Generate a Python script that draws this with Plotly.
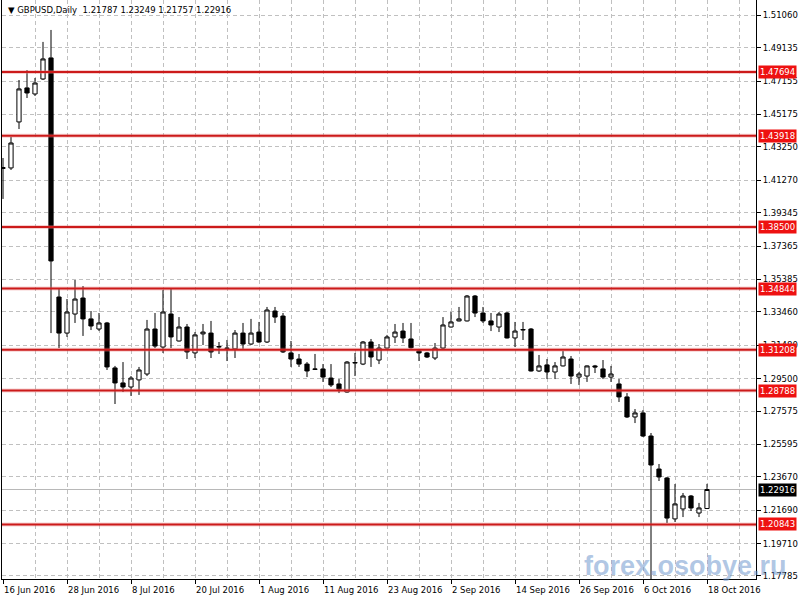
import plotly.graph_objects as go
import pandas as pd

# ---- data (GBPUSD daily, 16 Jun 2016 - 18 Oct 2016) ----
dates = pd.bdate_range("2016-06-16", "2016-10-18")

opens = [1.4197, 1.4200, 1.4473, 1.4675, 1.4639, 1.4728, 1.4853, 1.3434, 1.3220, 1.3333,
         1.3428, 1.3304, 1.3244, 1.3280, 1.3013, 1.2924, 1.2900, 1.2942, 1.2977, 1.3244,
         1.3137, 1.3333, 1.3173, 1.3256, 1.3102, 1.3215, 1.3220, 1.3137, 1.3131, 1.3126,
         1.3220, 1.3155, 1.3226, 1.3167, 1.3351, 1.3321, 1.3102, 1.3066, 1.3036, 1.3007,
         1.3007, 1.2953, 1.2918, 1.2870, 1.3042, 1.3036, 1.3167, 1.3060, 1.3131, 1.3197,
         1.3232, 1.3185, 1.3114, 1.3102, 1.3072, 1.3131, 1.3256, 1.3292, 1.3292, 1.3440,
         1.3339, 1.3292, 1.3256, 1.3339, 1.3191, 1.3238, 1.3244, 1.2995, 1.3031, 1.2989,
         1.3025, 1.3066, 1.2959, 1.2965, 1.3025, 1.3007, 1.2959, 1.2918, 1.2841, 1.2722,
         1.2746, 1.2609, 1.2413, 1.2360, 1.2117, 1.2176, 1.2253, 1.2152, 1.21787]
highs = [1.4259, 1.4384, 1.4722, 1.4781, 1.4734, 1.4948, 1.5019, 1.3482, 1.3422, 1.3535,
         1.3499, 1.3351, 1.3339, 1.3286, 1.3025, 1.3048, 1.2965, 1.3019, 1.3298, 1.3339,
         1.3476, 1.3482, 1.3315, 1.3274, 1.3226, 1.3274, 1.3292, 1.3167, 1.3179, 1.3238,
         1.3280, 1.3304, 1.3286, 1.3375, 1.3375, 1.3339, 1.3173, 1.3096, 1.3048, 1.3096,
         1.3036, 1.3036, 1.2947, 1.3054, 1.3102, 1.3173, 1.3185, 1.3155, 1.3209, 1.3274,
         1.3280, 1.3280, 1.3126, 1.3108, 1.3161, 1.3315, 1.3345, 1.3375, 1.3446, 1.3446,
         1.3375, 1.3339, 1.3345, 1.3345, 1.3286, 1.3286, 1.3250, 1.3090, 1.3066, 1.3048,
         1.3114, 1.3084, 1.2989, 1.3028, 1.3031, 1.3060, 1.3025, 1.2947, 1.2864, 1.2769,
         1.2763, 1.2627, 1.2443, 1.2366, 1.2324, 1.2271, 1.2259, 1.2212, 1.23249]
lows = [1.4016, 1.4188, 1.4431, 1.4615, 1.4627, 1.4722, 1.3220, 1.3131, 1.3197, 1.3280,
        1.3203, 1.3238, 1.3232, 1.3001, 1.2799, 1.2870, 1.2847, 1.2853, 1.2965, 1.3131,
        1.3102, 1.3131, 1.3170, 1.3066, 1.3072, 1.3149, 1.3072, 1.3096, 1.3054, 1.3072,
        1.3126, 1.3149, 1.3162, 1.3161, 1.3280, 1.3102, 1.3019, 1.3019, 1.2959, 1.3001,
        1.2930, 1.2900, 1.2864, 1.2866, 1.2965, 1.3030, 1.3019, 1.3036, 1.3128, 1.3161,
        1.3161, 1.3128, 1.3054, 1.3072, 1.3060, 1.3126, 1.3253, 1.3289, 1.3289, 1.3315,
        1.3280, 1.3232, 1.3226, 1.3188, 1.3137, 1.3179, 1.2992, 1.2989, 1.2947, 1.2947,
        1.3022, 1.2918, 1.2912, 1.2930, 1.2983, 1.2947, 1.2930, 1.2811, 1.2716, 1.2686,
        1.2603, 1.1491, 1.2342, 1.2093, 1.2099, 1.2128, 1.2164, 1.2128, 1.21757]
closes = [1.4202, 1.4348, 1.4669, 1.4645, 1.4704, 1.4847, 1.3648, 1.3220, 1.3345, 1.3422,
          1.3304, 1.3262, 1.3280, 1.3019, 1.2924, 1.2900, 1.2953, 1.3001, 1.3244, 1.3143,
          1.3345, 1.3197, 1.3256, 1.3108, 1.3209, 1.3226, 1.3108, 1.3140, 1.3129, 1.3220,
          1.3155, 1.3220, 1.3167, 1.3357, 1.3315, 1.3108, 1.3066, 1.3036, 1.2995, 1.3005,
          1.2959, 1.2912, 1.2888, 1.3048, 1.3045, 1.3167, 1.3078, 1.3131, 1.3197, 1.3226,
          1.3191, 1.3133, 1.3102, 1.3078, 1.3131, 1.3268, 1.3286, 1.3304, 1.3440, 1.3339,
          1.3292, 1.3268, 1.3333, 1.3191, 1.3232, 1.3241, 1.2995, 1.3025, 1.2989, 1.3025,
          1.3078, 1.2965, 1.2977, 1.3025, 1.3019, 1.2959, 1.2977, 1.2841, 1.2722, 1.2746,
          1.2609, 1.2437, 1.2366, 1.2122, 1.2206, 1.2253, 1.2182, 1.2182, 1.22916]

levels = [1.47694, 1.43918, 1.38500, 1.34844, 1.31208, 1.28788, 1.20843]
last_price = 1.22916
title_text = "GBPUSD,Daily  1.21787 1.23249 1.21757 1.22916"

y_ticks = [1.51060, 1.49135, 1.47155, 1.45175, 1.43250, 1.41270, 1.39345, 1.37365, 1.35385,
           1.33460, 1.31480, 1.29500, 1.27575, 1.25595, 1.23670, 1.21690, 1.19710, 1.17785]
date_labels = ["16 Jun 2016", "28 Jun 2016", "8 Jul 2016", "20 Jul 2016", "1 Aug 2016",
               "11 Aug 2016", "23 Aug 2016", "2 Sep 2016", "14 Sep 2016", "26 Sep 2016",
               "6 Oct 2016", "18 Oct 2016"]
label_every = 8

# ---- figure ----
FONT = "DejaVu Sans"
FS = 8.5
x = list(range(len(opens)))

fig = go.Figure()
fig.add_trace(go.Candlestick(
    x=x, open=opens, high=highs, low=lows, close=closes,
    increasing=dict(line=dict(color="black", width=1), fillcolor="white"),
    decreasing=dict(line=dict(color="black", width=1), fillcolor="black"),
    whiskerwidth=0, hoverinfo="skip", showlegend=False,
))

grid_col = "#c0c0c0"
fig.update_layout(
    width=800, height=600,
    margin=dict(l=2, r=44, t=0, b=21, autoexpand=False),
    paper_bgcolor="white", plot_bgcolor="white",
    boxgap=0.25,
    font=dict(family=FONT, size=FS, color="black"),
    xaxis=dict(
        range=[-0.125, 94.125], rangeslider=dict(visible=False),
        tickvals=[i * label_every for i in range(len(date_labels))],
        showticklabels=False, ticks="outside", ticklen=4, tickcolor="black",
        showgrid=True, gridcolor=grid_col, griddash="4px,3px", gridwidth=1,
        minor=dict(tick0=0, dtick=4, showgrid=True, gridcolor=grid_col,
                   griddash="4px,3px", ticks=""),
        showline=True, linecolor="black", linewidth=1, mirror=True,
        zeroline=False, fixedrange=True, automargin=False,
    ),
    yaxis=dict(
        side="right", range=[1.17604, 1.51968],
        tickvals=y_ticks, ticktext=[f"{v:.5f}" for v in y_ticks],
        ticks="outside", ticklen=4, tickcolor="black",
        tickfont=dict(family=FONT, size=FS, color="black"),
        showgrid=True, gridcolor=grid_col, griddash="4px,3px", gridwidth=1,
        showline=True, linecolor="black", linewidth=1, mirror=True,
        zeroline=False, fixedrange=True, automargin=False,
    ),
)

# current price line
fig.add_shape(type="line", xref="paper", x0=0, x1=1, yref="y", y0=last_price, y1=last_price,
              line=dict(color="#b8b8b8", width=1), layer="below")

# support / resistance levels
for lv in levels:
    fig.add_shape(type="line", xref="paper", x0=0, x1=1, yref="y", y0=lv, y1=lv,
                  line=dict(color="rgba(230,120,120,0.35)", width=4), layer="above")
    fig.add_shape(type="line", xref="paper", x0=0, x1=1, yref="y", y0=lv, y1=lv,
                  line=dict(color="#cc1a1a", width=2), layer="above")
    fig.add_annotation(xref="paper", x=1, xanchor="left", xshift=2, yref="y", y=lv,
                       yanchor="middle", text=f"{lv:.5f}", showarrow=False,
                       bgcolor="#ee1111", borderpad=1,
                       font=dict(family=FONT, size=FS, color="white"))

fig.add_annotation(xref="paper", x=1, xanchor="left", xshift=2, yref="y", y=last_price,
                   yanchor="middle", text=f"{last_price:.5f}", showarrow=False,
                   bgcolor="black", borderpad=1,
                   font=dict(family=FONT, size=FS, color="white"))

# date labels (left aligned at ticks, as in MT4)
for i, lab in enumerate(date_labels):
    fig.add_annotation(xref="x", x=i * label_every, xanchor="left", xshift=-1,
                       yref="paper", y=0, yanchor="top", yshift=-4,
                       text=lab, showarrow=False,
                       font=dict(family=FONT, size=FS, color="black"))

# title
fig.add_annotation(xref="paper", x=0, xanchor="left", xshift=4, yref="paper", y=1,
                   yanchor="top", yshift=-3, text="▼ " + title_text, showarrow=False,
                   font=dict(family=FONT, size=FS, color="black"))

# watermark
fig.add_annotation(xref="paper", x=0.907, xanchor="center", yref="paper", y=0.022,
                   yanchor="middle", text="<b>forex.osobye.ru</b>", showarrow=False,
                   font=dict(family="Liberation Sans", size=27, color="rgba(110,150,205,0.55)"))

fig.write_html("out.html", config={"displayModeBar": False},
               post_script="document.body.style.margin='0';")
